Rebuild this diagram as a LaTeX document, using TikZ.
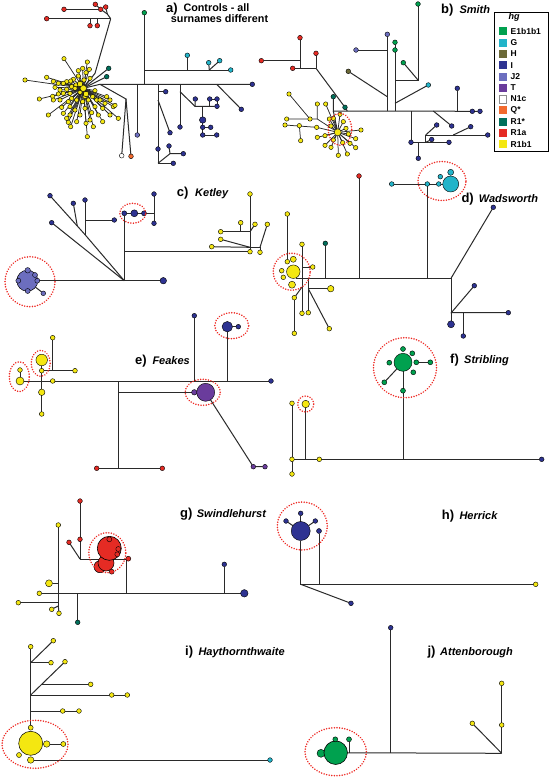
\documentclass[tikz,border=0pt]{standalone}
\usepackage{fontspec}
\setmainfont{Liberation Sans}
\definecolor{cE}{HTML}{00A14F}
\definecolor{cG}{HTML}{22B4C9}
\definecolor{cH}{HTML}{6C6A38}
\definecolor{cI}{HTML}{2E3392}
\definecolor{cJ}{HTML}{6C6EBF}
\definecolor{cT}{HTML}{6A3C9C}
\definecolor{cQ}{HTML}{F26A2E}
\definecolor{cR1}{HTML}{00705C}
\definecolor{cRa}{HTML}{E52B24}
\definecolor{cRb}{HTML}{F4E711}
\definecolor{lnc}{HTML}{2A2A2A}
\definecolor{ringc}{HTML}{EE2A24}
\pgfdeclarelayer{bgl}\pgfdeclarelayer{edges}\pgfsetlayers{bgl,edges,main}
\tikzset{
  hd/.style={circle,draw=black,line width=0.4pt,inner sep=0pt,outer sep=0pt,minimum size=4.7pt},
  sz/.style={minimum size=#1pt},
  sY/.style={hd,fill=cRb}, sB/.style={hd,fill=cI}, sJ/.style={hd,fill=cJ},
  sP/.style={hd,fill=cT}, sE/.style={hd,fill=cE}, sC/.style={hd,fill=cG},
  sH/.style={hd,fill=cH}, sN/.style={hd,fill=white}, sQ/.style={hd,fill=cQ},
  sT/.style={hd,fill=cR1}, sR/.style={hd,fill=cRa},
  ln/.style={draw=lnc,line width=1pt},
  ring/.style={draw=ringc,line width=1.7pt,dash pattern=on 0.01pt off 2.6pt,line cap=round},
  plab/.style={font=\fontsize{13}{15}\selectfont\bfseries,anchor=base west,inner sep=0pt},
  nlab/.style={font=\fontsize{11}{13}\selectfont\bfseries\itshape,anchor=base west,inner sep=0pt},
  alab/.style={font=\fontsize{10.8}{13}\selectfont\bfseries,anchor=base west,inner sep=0pt},
  sw/.style={rectangle,inner sep=0pt,minimum size=8pt},
  lgt/.style={font=\fontsize{8.5}{10}\selectfont\bfseries,anchor=west,inner sep=0pt},
}
\begin{document}
\begin{tikzpicture}[x=1pt,y=-1pt]
\begin{pgfonlayer}{bgl}
\fill[white] (0,0) rectangle (550,779);
\end{pgfonlayer}
\useasboundingbox (0,0) rectangle (550,779);

% ================= panel a =================
\node[plab] (la) at (166,12.3) {a)};
\node[alab] (la1) at (183.3,11.8) {Controls - all};
\node[alab] (la2) at (170.7,22.7) {surnames different};
\node[sR] (aR1) at (95.3,4.3) {};
\node[sR] (aR2) at (100.7,9.3) {};
\node[sR] (aR3) at (105.7,7) {};
\node[sR] (aR4) at (64,9.3) {};
\node[sR] (aR5) at (46.7,18.7) {};
\node[sR] (aR6) at (90,25.7) {};
\node[sR] (aR7) at (97.3,25.7) {};
\coordinate (aJ1) at (110.7,18.7);
\coordinate (aJ2) at (107.3,14);
\coordinate (aJ6) at (90,18.7);
\coordinate (aJ7) at (97.3,18.7);
\coordinate (aK) at (95,73.3);
\foreach \px/\py [count=\i] in {192/176,262/186,268/208,248/205,258/218,235/228,220/238,212/243,200/245,190/250,175/250,165/262,180/270,160/244,140/232,75/240,118/297,158/289,175/282,190/280,200/268,215/260,228/255,240/248,240/277,255/290,248/305,230/300,215/295,205/305,185/322,190/340,210/345,200/355,205/367,212/380,240/345,225/330,255/325,262/410,258/370,270/360,275/338,285/320,290/300,300/300,308/325,308/365,330/345,340/320,355/355,345/316,330/300,320/290,285/272,270/235,145/345,160/300,180/300,210/320,230/365,280/380,295/345,315/310,252/240,235/212,225/265,210/280,265/300,278/290}
  {\node[sY,sz=4.4] (ay\i) at (\px/3,\py/3) {}; \xdef\anum{\i}}
\node[sY,sz=6.5] (aHub) at (83.3,88.3) {};
\node[sY,sz=5.5] (aHub2) at (80,84) {};
\node[sY,sz=5.5] (aHub3) at (86,94) {};
\node[sT] (aT1) at (108.7,68.3) {};
\node[sT] (aT2) at (106.7,76.7) {};
\coordinate (aB0) at (100,84.3);
\node[sB] (aEnd) at (252.3,84.3) {};
\node[sE] (aG) at (144.3,12.7) {};
\coordinate (aV1) at (144.3,84.3);
\coordinate (aV1b) at (144.3,70);
\node[sC] (aC1) at (230.7,70) {};
\node[sC] (aC2) at (187.3,55.3) {};
\node[sC] (aC3) at (208.7,62.7) {};
\node[sC] (aC4) at (219.7,60.7) {};
\coordinate (aC2b) at (187.3,70);
\coordinate (aC3b) at (209.3,70);
\coordinate (aD) at (126,99);
\node[sN] (aN) at (121.7,155.7) {};
\node[sQ] (aQ) at (131,156.3) {};
\node[sJ] (aJ2d) at (137.3,135) {};
\coordinate (aV2) at (137.3,84.3);
\coordinate (aV3) at (158,84.3);
\coordinate (aV3b) at (158,163.3);
\coordinate (aV3c) at (158,91.7);
\coordinate (aV3d) at (158,100);
\coordinate (aV3e) at (170,153.7);
\node[sB] (aI1) at (165.7,91.7) {};
\node[sB] (aI2) at (170,132.7) {};
\node[sB] (aI3) at (158,149) {};
\node[sB] (aI4) at (169,146) {};
\node[sB] (aI5) at (183.3,153.7) {};
\node[sB] (aI6) at (173.3,163.3) {};
\coordinate (aV4) at (180,84.3);
\coordinate (aV4b) at (180,91.7);
\node[sB] (aI7) at (180,127) {};
\coordinate (aW) at (195,106.3);
\coordinate (aW3) at (209.7,106.3);
\coordinate (aW4) at (202.7,106.3);
\node[sB] (aI8) at (195.3,99) {};
\node[sB] (aI9) at (209.7,99) {};
\node[sB] (aI10) at (217,99) {};
\node[sB] (aI11) at (217,106.3) {};
\node[sB,sz=6.5] (aI12) at (202.7,120) {};
\node[sB] (aI13) at (202.7,127.3) {};
\node[sB] (aI14) at (210.7,127.3) {};
\node[sB] (aI15) at (202.7,135) {};
\node[sB] (aI16) at (216.7,135) {};
\coordinate (aV5) at (216.7,84.3);
\node[sB] (aI17) at (241.3,109.3) {};
\begin{pgfonlayer}{edges}
\draw[ln] (aR5) -- (aJ6) -- (aJ7) -- (aJ1);
\draw[ln] (aJ6) -- (aR6); \draw[ln] (aJ7) -- (aR7);
\draw[ln] (aJ1) -- (aJ2) -- (aR2); \draw[ln] (aJ2) -- (aR3);
\draw[ln] (aR4) -- (aR2); \draw[ln] (aR1) -- (aR2);
\draw[ln] (aJ1) -- (aK) -- (aHub);
\foreach \i in {1,...,\anum} {\draw[ln,line width=0.75pt] (aHub) -- (ay\i);}
\draw[ln] (aHub) -- (aT1); \draw[ln] (aHub) -- (aT2);
\draw[ln] (aHub) -- (aB0) -- (aEnd);
\draw[ln] (aG) -- (aV1);
\draw[ln] (aV1b) -- (aC1); \draw[ln] (aC2) -- (aC2b);
\draw[ln] (aC3) -- (aC3b); \draw[ln] (aC4) -- (aC3b);
\draw[ln] (aB0) -- (aD) -- (aN); \draw[ln] (aD) -- (aQ);
\draw[ln] (aV2) -- (aJ2d);
\draw[ln] (aV3) -- (aV3b); \draw[ln] (aV3c) -- (aI1); \draw[ln] (aV3d) -- (aI2);
\draw[ln] (aV3b) -- (aV3e) -- (aI5); \draw[ln] (aI4) -- (aV3e); \draw[ln] (aV3b) -- (aI6);
\draw[ln] (aV4) -- (aI7);
\draw[ln] (aV4b) -- (aW) -- (aI11); \draw[ln] (aI8) -- (aW);
\draw[ln] (aI9) -- (aI10); \draw[ln] (aI9) -- (aW3); \draw[ln] (aI10) -- (aI11);
\draw[ln] (aW4) -- (aI15); \draw[ln] (aI13) -- (aI14); \draw[ln] (aI15) -- (aI16);
\draw[ln] (aV5) -- (aI17);
\end{pgfonlayer}

% ================= panel b =================
\node[plab] (lb) at (441,13.8) {b)};
\node[nlab] (lb1) at (459.3,13.3) {Smith};
\node[sR] (bR1) at (261.3,60.7) {};
\node[sR] (bR2) at (300,37.7) {};
\node[sR] (bR3) at (316,53.3) {};
\node[sR] (bR4) at (292.7,68.3) {};
\coordinate (bRa) at (300,60.7);
\coordinate (bRb) at (300,68.3);
\coordinate (bRc) at (316,68.3);
\node[sT] (bT1) at (333.3,96.7) {};
\node[sT] (bT2) at (345,107.3) {};
\coordinate (bB0) at (333.3,111);
\coordinate (bB1) at (347.3,111);
\node[sB] (bI1) at (472.3,111.3) {};
\node[sB] (bI2) at (480,111.3) {};
\coordinate (bV1) at (387.3,111);
\coordinate (bV1a) at (387.3,50);
\coordinate (bV1b) at (387.3,96.7);
\node[sJ] (bJ1) at (387.3,34.3) {};
\node[sJ] (bJ2) at (356,50) {};
\node[sH] (bH) at (348.3,71.3) {};
\coordinate (bV2) at (395,111);
\coordinate (bV2a) at (395,80);
\coordinate (bV2b) at (418,80);
\coordinate (bV2c) at (395,103.3);
\node[sE] (bE1) at (395,42.3) {};
\node[sE] (bE2) at (395,50) {};
\node[sE] (bE3) at (418,4) {};
\node[sE] (bE4) at (403.3,62.7) {};
\node[sC] (bG1) at (428.3,85) {};
\coordinate (bV3) at (457.3,111);
\node[sB] (bI3) at (457.3,88.3) {};
\coordinate (bV4) at (411,111);
\node[sB] (bI4) at (411,142.3) {};
\coordinate (bV5) at (433.3,111);
\node[sB] (bI5) at (451.7,126) {};
\node[sB] (bI6) at (449,142.3) {};
\coordinate (bK7) at (418.3,142.3);
\node[sB] (bI7) at (418.3,158.3) {};
\coordinate (bW1) at (425.7,142.3);
\coordinate (bW2) at (425.7,135);
\coordinate (bW3) at (453.3,135);
\node[sB] (bI8) at (487.7,135) {};
\node[sB] (bI9) at (431.7,139.5) {};
\node[sB] (bI10) at (436.7,125) {};
\node[sB] (bI11) at (470.7,126.7) {};
\foreach \px/\py [count=\i] in {87/282,150/357,172/312,80/357,75/375,118/377,122/422,172/412,195/407,195/436,213/442,235/466,262/462,287/443,287/416,303/390,197/312,170/382,208/357,220/355,240/343,265/402,270/430,213/378,250/365,258/385,220/420,248/428}
  {\node[sY,sz=4.4] (by\i) at (260+\px/3,\py/3) {}; \xdef\bnum{\i}}
\node[sY,sz=7] (bHub) at (337.7,132.3) {};
\coordinate (bS1) at (317.3,119);
\begin{pgfonlayer}{edges}
\draw[ln] (bR1) -- (bRa); \draw[ln] (bR2) -- (bRb);
\draw[ln] (bR4) -- (bRc); \draw[ln] (bR3) -- (bRc);
\draw[ln] (bRc) -- (bT2) -- (bB1);
\draw[ln] (bT1) -- (bB0) -- (bI2);
\draw[ln] (bV1) -- (bJ1); \draw[ln] (bJ2) -- (bV1a); \draw[ln] (bH) -- (bV1b);
\draw[ln] (bV2) -- (bE1); \draw[ln] (bV2a) -- (bV2b) -- (bE3);
\draw[ln] (bE4) -- (bV2b); \draw[ln] (bG1) -- (bV2c);
\draw[ln] (bV3) -- (bI3);
\draw[ln] (bV4) -- (bI4) -- (bI6);
\draw[ln] (bV5) -- (bI5);
\draw[ln] (bK7) -- (bI7);
\draw[ln] (bW1) -- (bW2) -- (bI8);
\draw[ln] (bI9) -- (bW1); \draw[ln] (bI10) -- (bW2); \draw[ln] (bI11) -- (bW3);
\draw[ln] (bB0) -- (bHub);
\draw[ln,line width=0.75pt] (by4) -- (by2) -- (bS1) -- (bHub);
\draw[ln,line width=0.75pt] (by1) -- (by2);
\draw[ln,line width=0.75pt] (by3) -- (bS1);
\draw[ln,line width=0.75pt] (by5) -- (by18) -- (bHub);
\draw[ln,line width=0.75pt] (by6) -- (by7);
\foreach \i in {8,...,17,19,20,...,\bnum} {\draw[ln,line width=0.75pt] (bHub) -- (by\i);}
\end{pgfonlayer}
\draw[ring] (340,129.3) ellipse [x radius=11.7pt,y radius=16pt];

% legend
\draw[black,line width=0.8pt] (494.3,12) rectangle (548.7,151.7);
\node[font=\fontsize{9}{10}\selectfont\bfseries\itshape,inner sep=0pt] (lgh) at (514,17.6) {hg};
\foreach \c/\t/\yy [count=\i] in {cE/E1b1b1/31.3,cG/G/42.6,cH/H/53.9,cI/I/65.2,cJ/J2/76.5,cT/T/87.8,white/N1c/99.1,cQ/Q*/110.4,cR1/R1*/121.7,cRa/R1a/133,cRb/R1b1/144.3}
  {\node[sw,fill=\c] (lgs\i) at (502.7,\yy) {};
   \node[lgt] (lgt\i) at (510.5,\yy) {\t};}
\draw[black!45,line width=0.6pt] (498.9,95.3) rectangle (506.5,102.9);

% ================= panel c =================
\node[plab] (lc) at (176.7,196) {c)};
\node[nlab] (lc1) at (195,196) {Ketley};
\node[sJ,sz=21,line width=0.5pt] (cJ0) at (27.3,280.7) {};
\node[sJ,sz=5.5] (cJ1) at (27.7,270.3) {};
\node[sJ,sz=5] (cJ2) at (35,275) {};
\node[sJ,sz=5] (cJ3) at (37.3,280.7) {};
\node[sJ,sz=5] (cJ4) at (18.3,280.7) {};
\node[sJ,sz=5] (cJ5) at (27.7,291) {};
\node[sJ] (cJ6) at (43.3,293.3) {};
\node[sB,sz=6.5] (cI0) at (163.3,280.7) {};
\coordinate (cH) at (124.3,280.7);
\coordinate (cH2) at (124.3,251.7);
\node[sB,sz=5] (cD1) at (124.3,213.3) {};
\node[sB,sz=7] (cD2) at (134.3,213.3) {};
\node[sB,sz=5] (cD3) at (144,213.3) {};
\coordinate (cD4) at (154,213.3);
\node[sB] (cD5) at (154,194) {};
\node[sB] (cD6) at (154,223.3) {};
\node[sB] (cI1) at (50,195.7) {};
\node[sB] (cI2) at (51.7,222.7) {};
\node[sB] (cI3) at (85,200) {};
\node[sB] (cI4) at (114.3,220) {};
\node[sB] (cI5) at (73.3,203.3) {};
\coordinate (cK1) at (85,234.6);
\coordinate (cK1b) at (85,220);
\coordinate (cK2) at (77.3,226);
\node[sY] (cY1) at (250,251.7) {};
\node[sY] (cY2) at (260,252.3) {};
\node[sY] (cY3) at (250,194) {};
\node[sY] (cY4) at (240.7,222.7) {};
\node[sY] (cY5) at (220.7,231.7) {};
\node[sY] (cY6) at (255,224.3) {};
\node[sY] (cY7) at (220.7,239.3) {};
\node[sY] (cY8) at (211.7,246.7) {};
\node[sY] (cY9) at (267.3,224.3) {};
\coordinate (cK3) at (240.7,231.7);
\coordinate (cK4) at (250,231.7);
\coordinate (cK6) at (250,247.3);
\coordinate (cK7) at (260,247.3);
\begin{pgfonlayer}{edges}
\draw[ln] (cJ6) -- (cJ0);
\draw[ln] (cJ0) -- (cI0);
\draw[ln] (cH) -- (cD1) -- (cD4);
\draw[ln] (cD5) -- (cD6);
\draw[ln] (cH) -- (cK1) -- (cK2) -- (cI1);
\draw[ln] (cH) -- (cI2);
\draw[ln] (cI3) -- (cK1); \draw[ln] (cK1b) -- (cI4);
\draw[ln] (cI5) -- (cK2);
\draw[ln] (cH2) -- (cY1) -- (cY3);
\draw[ln] (cY4) -- (cK3); \draw[ln] (cY5) -- (cK4); \draw[ln] (cY6) -- (cK4);
\draw[ln] (cY7) -- (cK6); \draw[ln] (cY8) -- (cK6);
\draw[ln] (cK6) -- (cK7); \draw[ln] (cY2) -- (cK7); \draw[ln] (cY9) -- (cK7);
\end{pgfonlayer}
\draw[ring] (30,281.7) circle [radius=25pt];
\draw[ring] (132.7,213.3) ellipse [x radius=13pt,y radius=10pt];

% ================= panel d =================
\node[plab] (ld) at (461.3,202.3) {d)};
\node[nlab] (ld1) at (478.7,202) {Wadsworth};
\node[sY,sz=13.5] (dY0) at (293.3,271.7) {};
\node[sY,sz=6] (dY1) at (293.3,259.3) {};
\node[sY] (dY2) at (287.3,261.7) {};
\node[sY] (dY3) at (281.7,270.7) {};
\node[sY] (dY4) at (283.3,277.3) {};
\node[sY,sz=7] (dY5) at (292,284.7) {};
\node[sY] (dY6) at (312.7,267) {};
\node[sY] (dY7) at (287.3,214) {};
\node[sY] (dY8) at (302,244.3) {};
\node[sY] (dY9) at (302,313.3) {};
\node[sY] (dY10) at (308.3,312.7) {};
\node[sY,sz=6.5] (dY11) at (330.7,288.7) {};
\node[sY] (dY12) at (294.3,297.7) {};
\node[sY] (dY13) at (294.3,333.3) {};
\node[sY] (dY14) at (329.3,328.7) {};
\coordinate (dB0) at (296,278.3);
\coordinate (dB1) at (451,278.3);
\coordinate (dK1) at (302,267);
\coordinate (dK2) at (308.3,288.7);
\coordinate (dK4) at (308.3,278.3);
\coordinate (dK5) at (302,287);
\node[sT] (dT) at (325.3,243.3) {};
\coordinate (dTb) at (325.3,278.3);
\node[sR] (dR) at (359,176) {};
\coordinate (dRb) at (359,278.3);
\coordinate (dV) at (427.3,278.3);
\node[sC] (dG1) at (391.7,184) {};
\node[sC] (dG2) at (427.3,184) {};
\node[sC] (dG3) at (438.7,184) {};
\node[sC,sz=16] (dG0) at (450.7,184) {};
\node[sC,sz=6] (dG4) at (450.7,172.3) {};
\node[sC] (dG5) at (440.3,176.7) {};
\node[sB] (dI1) at (493.3,207.3) {};
\node[sB,sz=7] (dI2) at (451,324.3) {};
\node[sB] (dI3) at (474.3,285.7) {};
\node[sB] (dI4) at (508.3,312.7) {};
\node[sB] (dI5) at (463.3,336) {};
\coordinate (dK6) at (451.3,312.7);
\coordinate (dK7) at (463.3,312.7);
\begin{pgfonlayer}{edges}
\draw[ln] (dB0) -- (dB1);
\draw[ln] (dY7) -- (dY2);
\draw[ln] (dY8) -- (dY9);
\draw[ln] (dY6) -- (dK1);
\draw[ln] (dK4) -- (dY10);
\draw[ln] (dK2) -- (dY11);
\draw[ln] (dY12) -- (dY13); \draw[ln] (dY12) -- (dK5);
\draw[ln] (dY14) -- (dK2);
\draw[ln] (dT) -- (dTb); \draw[ln] (dR) -- (dRb);
\draw[ln] (dV) -- (dG2); \draw[ln] (dG1) -- (dG3) -- (dG0);
\draw[ln] (dB1) -- (dI1); \draw[ln] (dB1) -- (dI2);
\draw[ln] (dI3) -- (dK6) -- (dI4);
\draw[ln] (dK7) -- (dI5);
\end{pgfonlayer}
\draw[ring] (291.7,271.7) circle [radius=18.5pt];
\draw[ring] (442,181) ellipse [x radius=24pt,y radius=19.5pt];

% ================= panel e =================
\node[plab] (le) at (135,364) {e)};
\node[nlab] (le1) at (152.3,364) {Feakes};
\node[sY,sz=8] (eY0) at (20,381) {};
\node[sY] (eY1) at (20,370) {};
\node[sY,sz=11.5] (eY2) at (41.7,360) {};
\node[sY] (eY3) at (41.7,370.7) {};
\node[sY,sz=6.5] (eY4) at (41.7,392.3) {};
\node[sY] (eY5) at (41.7,414) {};
\node[sY] (eY6) at (52.7,381) {};
\node[sY] (eY7) at (52.7,337.7) {};
\node[sY] (eY8) at (75,370.7) {};
\coordinate (eK1) at (52.7,370.7);
\node[sB] (eI0) at (271,381) {};
\coordinate (eH) at (118.3,381);
\coordinate (eK2) at (118.3,468.3);
\coordinate (eK3) at (118.3,392.3);
\node[sR] (eRd1) at (96.7,468.3) {};
\node[sR] (eRd2) at (162.3,468.3) {};
\node[sP,sz=5.5] (eT1) at (194.3,392.3) {};
\node[sP,sz=18] (eT0) at (205.7,392.3) {};
\node[sP] (eT2) at (253.3,466.7) {};
\node[sP] (eT3) at (265,466.7) {};
\node[sB] (eI1) at (194.3,315.7) {};
\coordinate (eI1b) at (194.3,381);
\node[sB,sz=10.5] (eI2) at (227.3,326.7) {};
\node[sB] (eI3) at (238.3,326.7) {};
\coordinate (eI2b) at (227.3,381);
\begin{pgfonlayer}{edges}
\draw[ln] (eY1) -- (eY0) -- (eI0);
\draw[ln] (eY2) -- (eY5);
\draw[ln] (eY7) -- (eK1); \draw[ln] (eY3) -- (eY8);
\draw[ln] (eH) -- (eK2); \draw[ln] (eRd1) -- (eRd2);
\draw[ln] (eK3) -- (eT1);
\draw[ln] (eT0) -- (eT2) -- (eT3);
\draw[ln] (eI1) -- (eI1b);
\draw[ln] (eI2b) -- (eI2) -- (eI3);
\end{pgfonlayer}
\draw[ring] (19.3,376.7) ellipse [x radius=10pt,y radius=15pt];
\draw[ring] (40.7,363.3) ellipse [x radius=9.5pt,y radius=13pt];
\draw[ring] (202.7,392.3) ellipse [x radius=17.5pt,y radius=13pt];
\draw[ring] (231.7,325.7) ellipse [x radius=17pt,y radius=13pt];

% ================= panel f =================
\node[plab] (lf) at (450,363.3) {f)};
\node[nlab] (lf1) at (464,363.3) {Stribling};
\node[sY] (fY0) at (292,459.3) {};
\node[sB] (fI0) at (541.7,459.3) {};
\node[sY] (fY1) at (292,403.3) {};
\node[sY] (fY2) at (292,474) {};
\node[sY] (fY3) at (319.3,459.3) {};
\node[sY,sz=7.5] (fY4) at (305.7,404) {};
\coordinate (fY4b) at (305.7,459.3);
\node[sE,sz=18] (fE0) at (403,362.3) {};
\coordinate (fK) at (403,459.3);
\node[sE,sz=5] (fE1) at (403,349) {};
\node[sE,sz=5] (fE2) at (412.3,353.3) {};
\node[sE,sz=5] (fE3) at (389.3,362.7) {};
\node[sE,sz=5] (fE4) at (416.3,362.3) {};
\node[sE,sz=5] (fE5) at (430.3,362.3) {};
\node[sE,sz=5] (fE6) at (413.3,372.3) {};
\node[sE,sz=5] (fE7) at (384.3,382.3) {};
\node[sE,sz=5] (fE8) at (403,390.7) {};
\begin{pgfonlayer}{edges}
\draw[ln] (fY0) -- (fI0);
\draw[ln] (fY1) -- (fY0) -- (fY2);
\draw[ln] (fY4) -- (fY4b);
\draw[ln] (fK) -- (fE0);
\draw[ln] (fE4) -- (fE5); \draw[ln] (fE7) -- (fE0);
\end{pgfonlayer}
\draw[ring] (305.7,404) circle [radius=8pt];
\draw[ring] (405,367.7) ellipse [x radius=31.5pt,y radius=30pt];

% ================= panel g =================
\node[plab] (lg) at (180,517.3) {g)};
\node[nlab] (lg1) at (196.7,517.3) {Swindlehurst};
\node[sY] (gY0) at (39.3,593.3) {};
\node[sB,sz=7.5] (gI0) at (244.3,593.3) {};
\node[sB] (gI1) at (224.3,564.3) {};
\coordinate (gI1b) at (224.3,593.3);
\coordinate (gK1) at (126.7,593.3);
\coordinate (gK2) at (126.7,559);
\coordinate (gK3) at (80,559);
\node[sR] (gR1) at (80,501) {};
\node[sR] (gR2) at (80,539.3) {};
\node[sR] (gR3) at (69,542.3) {};
\node[sR,sz=12,line width=0.5pt] (gRc) at (100,566.7) {};
\node[sR,sz=16,line width=0.5pt] (gRb) at (106,563) {};
\node[sR,sz=24,line width=0.6pt] (gR0) at (109.3,548.3) {};
\node[sR,sz=5] (gR4) at (111.7,571.7) {};
\node[sR,sz=5] (gR5) at (118.3,549) {};
\node[sR,sz=5] (gR6) at (117.3,554.3) {};
\node[sR,sz=5] (gR7) at (128.3,558.7) {};
\node[sR,sz=5] (gR8) at (109.3,539.3) {};
\node[sY] (gY1) at (58.3,525) {};
\coordinate (gK5) at (58.3,606);
\node[sY,sz=7] (gY2) at (49,583.3) {};
\coordinate (gY2b) at (58.3,583.3);
\node[sY] (gY3) at (18.3,602.7) {};
\coordinate (gY3b) at (58.3,602.7);
\node[sY] (gY4) at (51.7,609.3) {};
\node[sY] (gY5) at (59,613.3) {};
\node[sT] (gT) at (77.7,622.3) {};
\coordinate (gTb) at (77.7,593.3);
\begin{pgfonlayer}{edges}
\draw[ln] (gY0) -- (gI0);
\draw[ln] (gI1) -- (gI1b);
\draw[ln] (gK1) -- (gK2) -- (gK3);
\draw[ln] (gR1) -- (gK3); \draw[ln] (gR3) -- (gK3);
\draw[ln] (gY1) -- (gK5);
\draw[ln] (gY2) -- (gY2b); \draw[ln] (gY3) -- (gY3b);
\draw[ln] (gK5) -- (gY4); \draw[ln] (gK5) -- (gY5);
\draw[ln] (gT) -- (gTb);
\end{pgfonlayer}
\draw[ring] (107.3,552.7) ellipse [x radius=18.5pt,y radius=20pt];

% ================= panel h =================
\node[plab] (lh) at (441.7,519) {h)};
\node[nlab] (lh1) at (459.3,519) {Herrick};
\node[sB,sz=19] (hI0) at (300.7,531) {};
\node[sB] (hI1) at (300.7,513.3) {};
\node[sB] (hI2) at (286,521) {};
\node[sB] (hI3) at (315.3,521) {};
\node[sB,sz=5] (hI4) at (319,531) {};
\coordinate (hI4b) at (319,584.3);
\coordinate (hK) at (300.7,584.3);
\node[sY] (hY) at (535.7,584.3) {};
\node[sB] (hI5) at (351,603.3) {};
\begin{pgfonlayer}{edges}
\draw[ln] (hI1) -- (hI0); \draw[ln] (hI2) -- (hI0); \draw[ln] (hI3) -- (hI0);
\draw[ln] (hI4) -- (hI4b);
\draw[ln] (hI0) -- (hK) -- (hY);
\draw[ln] (hK) -- (hI5);
\end{pgfonlayer}
\draw[ring] (302.3,526) ellipse [x radius=25pt,y radius=24pt];

% ================= panel i =================
\node[plab] (li) at (185,655.7) {i)};
\node[nlab] (li1) at (198.3,655.7) {Haythornthwaite};
\node[sY,sz=24,line width=0.5pt] (iY0) at (30.7,743.3) {};
\node[sY,sz=5] (iY1) at (30.7,727.7) {};
\node[sY,sz=6.5] (iY2) at (46.7,744) {};
\node[sY,sz=5] (iY3) at (63.3,744) {};
\node[sY,sz=5] (iY4) at (19,755) {};
\node[sY,sz=6.5] (iY5) at (30.7,760) {};
\node[sC] (iG) at (270,760) {};
\node[sY] (iY6) at (30.7,646.7) {};
\coordinate (iK1) at (30.7,662.7);
\node[sY] (iY7) at (53.3,640.7) {};
\node[sY] (iY8) at (51,662.7) {};
\coordinate (iK2) at (30.7,695);
\node[sY] (iY9) at (65,661.7) {};
\coordinate (iK3) at (41.7,684.3);
\node[sY] (iY10) at (90.7,684.3) {};
\node[sY] (iY11) at (111.7,695) {};
\node[sY] (iY12) at (127.3,695) {};
\coordinate (iK4) at (30.7,711);
\node[sY] (iY13) at (62.7,711) {};
\node[sY] (iY14) at (79,711) {};
\begin{pgfonlayer}{edges}
\draw[ln] (iY2) -- (iY3);
\draw[ln] (iY5) -- (iG);
\draw[ln] (iY6) -- (iY1);
\draw[ln] (iK1) -- (iY7); \draw[ln] (iK1) -- (iY8);
\draw[ln] (iK2) -- (iY9); \draw[ln] (iK3) -- (iY10);
\draw[ln] (iK2) -- (iY11) -- (iY12);
\draw[ln] (iK4) -- (iY13) -- (iY14);
\end{pgfonlayer}
\draw[ring] (35,744.3) ellipse [x radius=33pt,y radius=24pt];

% ================= panel j =================
\node[plab] (lj) at (427.3,655) {j)};
\node[nlab] (lj1) at (440,655) {Attenborough};
\node[sE,sz=8] (jE1) at (321,753.3) {};
\node[sE,sz=23.5,line width=0.6pt] (jE0) at (335.7,752.7) {};
\node[sE,sz=5] (jE2) at (335.3,739.3) {};
\node[sE,sz=5] (jE3) at (349,739.3) {};
\coordinate (jE3b) at (349,753.3);
\coordinate (jK1) at (390.7,753.3);
\coordinate (jK2) at (501.7,753.3);
\node[sB] (jI) at (390.7,627.7) {};
\node[sY] (jY1) at (501.7,683.3) {};
\node[sY] (jY2) at (501.7,725) {};
\node[sY] (jY3) at (472.3,723.3) {};
\begin{pgfonlayer}{edges}
\draw[ln] (jE3) -- (jE3b);
\draw[ln] (jE0) -- (jK2);
\draw[ln] (jI) -- (jK1);
\draw[ln] (jY1) -- (jK2); \draw[ln] (jY3) -- (jK2);
\end{pgfonlayer}
\draw[ring] (335.7,751.7) ellipse [x radius=30.7pt,y radius=24pt];
\end{tikzpicture}
\end{document}
